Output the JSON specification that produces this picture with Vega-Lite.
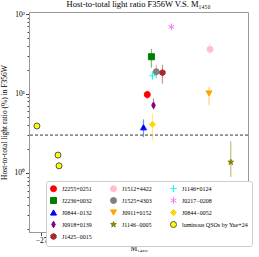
{
  "$schema": "https://vega.github.io/schema/vega-lite/v6.json",
  "width": 219,
  "height": 220,
  "autosize": "none",
  "padding": {"left": 29, "top": 12, "right": 11, "bottom": 25},
  "background": "white",
  "title": {"text": "Host-to-total light ratio F356W V.S. M₁₄₅₀", "fontSize": 8.5, "font": "Liberation Serif", "fontWeight": "normal", "offset": 2, "anchor": "middle"},
  "config": {
    "font": "Liberation Serif",
    "view": {"stroke": "#999", "strokeWidth": 1},
    "axis": {"domainColor": "#999", "tickColor": "#444", "labelFont": "Liberation Serif", "titleFont": "Liberation Serif", "labelFontSize": 7.5, "titleFontSize": 7.5, "titleFontWeight": "normal", "grid": false, "labelColor": "black", "titleColor": "black"}
  },
  "data": {"values": [
    {"name": "J2255+0251", "x": -23.92, "y": 9.7, "lo": 8.6, "hi": 10.8},
    {"name": "J1512+4422", "x": -22.10, "y": 36, "lo": 31.6, "hi": 42.2},
    {"name": "J1146+0124", "x": -23.77, "y": 16.7, "lo": 14.7, "hi": 19.3},
    {"name": "J2236+0032", "x": -23.80, "y": 29, "lo": 21.1, "hi": 36.5},
    {"name": "J1525+4303", "x": -23.66, "y": 18.8, "lo": 15.4, "hi": 23.0},
    {"name": "J0217−0208", "x": -23.22, "y": 69},
    {"name": "J0844−0132", "x": -24.03, "y": 3.76, "lo": 2.82, "hi": 4.73},
    {"name": "J0911+0152", "x": -22.13, "y": 10.0, "lo": 7.1, "hi": 12.2},
    {"name": "J0844−0052", "x": -23.77, "y": 4.1, "lo": 2.58, "hi": 5.6},
    {"name": "J0918+0139", "x": -23.74, "y": 7.1, "lo": 6.3, "hi": 8.66},
    {"name": "J1146−0005", "x": -21.50, "y": 1.37, "lo": 0.89, "hi": 2.51},
    {"name": "luminous QSOs by Yue+24", "x": -27.12, "y": 3.9},
    {"name": "luminous QSOs by Yue+24", "x": -26.51, "y": 1.68},
    {"name": "luminous QSOs by Yue+24", "x": -26.48, "y": 1.23},
    {"name": "J1425−0015", "x": -23.48, "y": 18.3, "lo": 13.3, "hi": 23.0}
  ]},
  "layer": [
    {
      "mark": {"type": "point", "filled": true, "size": 36, "strokeWidth": 1, "opacity": 1},
      "encoding": {
        "x": {"field": "x", "type": "quantitative", "title": "M₁₄₅₀",
          "scale": {"domain": [-27.35, -21], "nice": false, "zero": false},
          "axis": {"values": [-27, -26, -25, -24, -23, -22, -21], "format": "d", "tickSize": 3.5, "labelPadding": 1, "titleY": 12, "labelOverlap": false}
        },
        "y": {"field": "y", "type": "quantitative", "title": "Host-to-total light ratio (%) in F356W",
          "scale": {"type": "log", "domain": [0.181, 106], "nice": false},
          "axis": {
            "values": [0.2, 0.3, 0.4, 0.5, 0.6, 0.7, 0.8, 0.9, 1, 2, 3, 4, 5, 6, 7, 8, 9, 10, 20, 30, 40, 50, 60, 70, 80, 90, 100],
            "labelExpr": "datum.value == 1 ? '10⁰' : datum.value == 10 ? '10¹' : datum.value == 100 ? '10²' : ''",
            "tickSize": {"condition": {"test": "datum.value == 1 || datum.value == 10 || datum.value == 100", "value": 3.5}, "value": 2},
            "labelPadding": 1, "titleX": -21, "labelFlush": false, "labelOverlap": false
          }
        },
        "fill": {"field": "name", "type": "nominal",
          "scale": {
            "domain": ["J2255+0251", "J2236+0032", "J0844−0132", "J0918+0139", "luminous QSOs by Yue+24", "J1512+4422", "J1525+4303", "J0911+0152", "J1146−0005", "J1425−0015", "J1146+0124", "J0217−0208", "J0844−0052"],
            "range": ["red", "green", "blue", "purple", "yellow", "pink", "grey", "orange", "olive", "brown", "cyan", "violet", "gold"]
          },
          "legend": {
            "title": null, "orient": "none", "legendX": 17, "legendY": 169, "columns": 3,
            "strokeColor": "#ccc", "fillColor": "white", "cornerRadius": 2, "padding": 4,
            "labelFontSize": 6, "labelFont": "Liberation Serif", "symbolSize": 36, "rowPadding": 1, "columnPadding": 16, "labelOffset": 5,
            "symbolStrokeWidth": 1, "labelLimit": 200
          }
        },
        "stroke": {"field": "name", "type": "nominal",
          "scale": {
            "domain": ["J2255+0251", "J2236+0032", "J0844−0132", "J0918+0139", "luminous QSOs by Yue+24", "J1512+4422", "J1525+4303", "J0911+0152", "J1146−0005", "J1425−0015", "J1146+0124", "J0217−0208", "J0844−0052"],
            "range": ["red", "green", "blue", "purple", "#555555", "pink", "grey", "orange", "olive", "brown", "cyan", "violet", "gold"]
          }
        },
        "shape": {"field": "name", "type": "nominal",
          "scale": {
            "domain": ["J2255+0251", "J2236+0032", "J0844−0132", "J0918+0139", "luminous QSOs by Yue+24", "J1512+4422", "J1525+4303", "J0911+0152", "J1146−0005", "J1425−0015", "J1146+0124", "J0217−0208", "J0844−0052"],
            "range": ["circle", "square", "triangle-up", "M0,-1.1L0.6,0L0,1.1L-0.6,0Z", "circle", "circle", "circle", "triangle-down", "M0,-1L0.223,-0.307L0.951,-0.309L0.361,0.117L0.588,0.809L0,0.38L-0.588,0.809L-0.361,0.117L-0.951,-0.309L-0.223,-0.307Z", "M0,-1L0.866,-0.5L0.866,0.5L0,1L-0.866,0.5L-0.866,-0.5Z", "M-1.1,0L1.1,0M0,-1.1L0,1.1", "M0,-1.1L0,1.1M-0.95,-0.55L0.95,0.55M-0.95,0.55L0.95,-0.55", "diamond"]
          }
        }
      }
    },
    {
      "data": {"values": [{"level": 3}]},
      "mark": {"type": "rule", "strokeDash": [3, 2], "color": "black", "strokeWidth": 0.8},
      "encoding": {"y": {"field": "level", "type": "quantitative"}}
    },
    {
      "transform": [{"filter": "isValid(datum.lo)"}],
      "mark": {"type": "rule", "strokeWidth": 1.2, "opacity": 0.5},
      "encoding": {
        "x": {"field": "x", "type": "quantitative"},
        "y": {"field": "lo", "type": "quantitative"},
        "y2": {"field": "hi"},
        "color": {"field": "name", "type": "nominal", "legend": null,
          "scale": {
            "domain": ["J2255+0251", "J2236+0032", "J0844−0132", "J0918+0139", "luminous QSOs by Yue+24", "J1512+4422", "J1525+4303", "J0911+0152", "J1146−0005", "J1425−0015", "J1146+0124", "J0217−0208", "J0844−0052"],
            "range": ["red", "green", "blue", "purple", "yellow", "pink", "grey", "orange", "olive", "brown", "cyan", "violet", "gold"]
          }
        }
      }
    }
  ]
}
